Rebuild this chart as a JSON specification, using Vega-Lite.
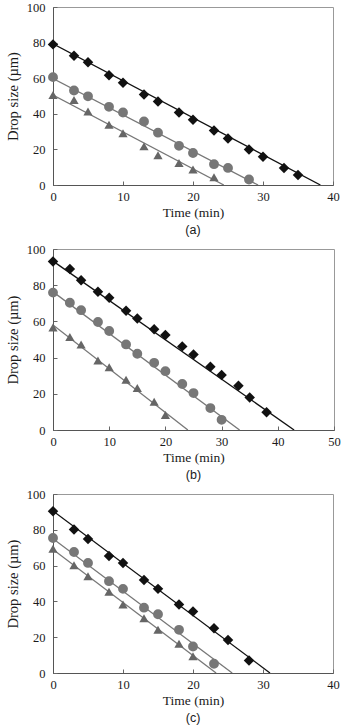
{
  "$schema": "https://vega.github.io/schema/vega-lite/v6.json",
  "background": "white",
  "padding": {"left": 4, "top": 0, "right": 6, "bottom": 0},
  "spacing": 64,
  "bounds": "flush",
  "config": {
    "font": "Liberation Serif",
    "view": {"stroke": "#999", "strokeWidth": 1},
    "axis": {
      "grid": false,
      "labelFont": "Liberation Serif",
      "titleFont": "Liberation Serif",
      "labelFontSize": 12.5,
      "titleFontSize": 13.5,
      "titleFontWeight": "normal",
      "labelColor": "#1a1a1a",
      "titleColor": "#1a1a1a",
      "domainColor": "#555",
      "tickColor": "#666",
      "tickSize": -4,
      "labelOverlap": false,
      "labelFlush": false
    },
    "axisY": {"titleFontSize": 14.5, "titlePadding": 6, "labelPadding": 12},
    "axisX": {"titlePadding": 3, "labelPadding": 9},
    "title": {"font": "Liberation Sans", "fontSize": 12.5, "fontWeight": "normal", "color": "#1a1a1a", "orient": "bottom", "offset": 5}
  },
  "datasets": {
    "pa": [
      {"s": "D", "t": 0, "d": 79}, {"s": "D", "t": 3, "d": 72.6}, {"s": "D", "t": 5, "d": 68.9}, {"s": "D", "t": 8, "d": 61.7}, {"s": "D", "t": 10, "d": 57.4}, {"s": "D", "t": 13, "d": 50.9}, {"s": "D", "t": 15, "d": 46.9}, {"s": "D", "t": 18, "d": 40.7}, {"s": "D", "t": 20, "d": 36.7}, {"s": "D", "t": 23, "d": 30.6}, {"s": "D", "t": 25, "d": 26.1}, {"s": "D", "t": 28, "d": 20}, {"s": "D", "t": 30, "d": 15.9}, {"s": "D", "t": 33, "d": 9.6}, {"s": "D", "t": 35, "d": 5.6},
      {"s": "C", "t": 0, "d": 60.6}, {"s": "C", "t": 3, "d": 53.1}, {"s": "C", "t": 5, "d": 49.8}, {"s": "C", "t": 8, "d": 43.9}, {"s": "C", "t": 10, "d": 40.7}, {"s": "C", "t": 13, "d": 35.7}, {"s": "C", "t": 15, "d": 29.4}, {"s": "C", "t": 18, "d": 22}, {"s": "C", "t": 20, "d": 18}, {"s": "C", "t": 23, "d": 11.7}, {"s": "C", "t": 25, "d": 9.6}, {"s": "C", "t": 28, "d": 3.1},
      {"s": "T", "t": 0, "d": 50.6}, {"s": "T", "t": 3, "d": 47.8}, {"s": "T", "t": 5, "d": 41.3}, {"s": "T", "t": 8, "d": 33.9}, {"s": "T", "t": 10, "d": 29.1}, {"s": "T", "t": 13, "d": 21.7}, {"s": "T", "t": 15, "d": 16.7}, {"s": "T", "t": 18, "d": 12.4}, {"s": "T", "t": 20, "d": 8.7}, {"s": "T", "t": 23, "d": 4.3}
    ],
    "la": [
      {"s": "D", "t": 0, "d": 79.3}, {"s": "D", "t": 38.2, "d": 0},
      {"s": "C", "t": 0, "d": 59.8}, {"s": "C", "t": 29.3, "d": 0},
      {"s": "T", "t": 0, "d": 50.5}, {"s": "T", "t": 24.4, "d": 0}
    ],
    "pb": [
      {"s": "D", "t": 0, "d": 93.1}, {"s": "D", "t": 3, "d": 88.9}, {"s": "D", "t": 5, "d": 82.7}, {"s": "D", "t": 8, "d": 76.4}, {"s": "D", "t": 10, "d": 73.1}, {"s": "D", "t": 13, "d": 65.9}, {"s": "D", "t": 15, "d": 61.6}, {"s": "D", "t": 18, "d": 55.7}, {"s": "D", "t": 20, "d": 52.5}, {"s": "D", "t": 23, "d": 46.2}, {"s": "D", "t": 25, "d": 41.7}, {"s": "D", "t": 28, "d": 34.9}, {"s": "D", "t": 30, "d": 30.4}, {"s": "D", "t": 33, "d": 24.5}, {"s": "D", "t": 35, "d": 18}, {"s": "D", "t": 38, "d": 9.8},
      {"s": "C", "t": 0, "d": 75.9}, {"s": "C", "t": 3, "d": 70.3}, {"s": "C", "t": 5, "d": 66.2}, {"s": "C", "t": 8, "d": 59.7}, {"s": "C", "t": 10, "d": 54.7}, {"s": "C", "t": 13, "d": 47.3}, {"s": "C", "t": 15, "d": 42.1}, {"s": "C", "t": 18, "d": 37.1}, {"s": "C", "t": 20, "d": 32.5}, {"s": "C", "t": 23, "d": 25.4}, {"s": "C", "t": 25, "d": 20.4}, {"s": "C", "t": 28, "d": 12.1}, {"s": "C", "t": 30, "d": 5.6},
      {"s": "T", "t": 0, "d": 56.6}, {"s": "T", "t": 3, "d": 51.4}, {"s": "T", "t": 5, "d": 47.3}, {"s": "T", "t": 8, "d": 38.4}, {"s": "T", "t": 10, "d": 34.7}, {"s": "T", "t": 13, "d": 27.8}, {"s": "T", "t": 15, "d": 23.2}, {"s": "T", "t": 18, "d": 15.6}, {"s": "T", "t": 20, "d": 8.3}
    ],
    "lb": [
      {"s": "D", "t": 0, "d": 93.3}, {"s": "D", "t": 42.9, "d": 0},
      {"s": "C", "t": 0, "d": 76.3}, {"s": "C", "t": 33.2, "d": 0},
      {"s": "T", "t": 0, "d": 58}, {"s": "T", "t": 24, "d": 0}
    ],
    "pc": [
      {"s": "D", "t": 0, "d": 90.4}, {"s": "D", "t": 3, "d": 80.2}, {"s": "D", "t": 5, "d": 74.8}, {"s": "D", "t": 8, "d": 65.4}, {"s": "D", "t": 10, "d": 61.5}, {"s": "D", "t": 13, "d": 51.9}, {"s": "D", "t": 15, "d": 47}, {"s": "D", "t": 18, "d": 38.3}, {"s": "D", "t": 20, "d": 34.3}, {"s": "D", "t": 23, "d": 25}, {"s": "D", "t": 25, "d": 18.5}, {"s": "D", "t": 28, "d": 7},
      {"s": "C", "t": 0, "d": 75.4}, {"s": "C", "t": 3, "d": 67.6}, {"s": "C", "t": 5, "d": 61.5}, {"s": "C", "t": 8, "d": 51.3}, {"s": "C", "t": 10, "d": 47}, {"s": "C", "t": 13, "d": 36.5}, {"s": "C", "t": 15, "d": 32.8}, {"s": "C", "t": 18, "d": 24.1}, {"s": "C", "t": 20, "d": 14.8}, {"s": "C", "t": 23, "d": 5.2},
      {"s": "T", "t": 0, "d": 69.4}, {"s": "T", "t": 3, "d": 60.2}, {"s": "T", "t": 5, "d": 54.1}, {"s": "T", "t": 8, "d": 45.4}, {"s": "T", "t": 10, "d": 38.3}, {"s": "T", "t": 13, "d": 30.6}, {"s": "T", "t": 15, "d": 24.1}, {"s": "T", "t": 18, "d": 16.3}, {"s": "T", "t": 20, "d": 9.3}
    ],
    "lc": [
      {"s": "D", "t": 0, "d": 90.5}, {"s": "D", "t": 31, "d": 0},
      {"s": "C", "t": 0, "d": 75}, {"s": "C", "t": 25.6, "d": 0},
      {"s": "T", "t": 0, "d": 69}, {"s": "T", "t": 23.3, "d": 0}
    ]
  },
  "vconcat": [
    {
      "width": 280, "height": 178,
      "title": {"text": "(a)"},
      "encoding": {
        "x": {"field": "t", "type": "quantitative", "scale": {"domain": [0, 40]}, "axis": {"title": "Time (min)", "values": [0, 10, 20, 30, 40]}},
        "y": {"field": "d", "type": "quantitative", "scale": {"domain": [0, 100]}, "axis": {"title": "Drop size (µm)", "values": [0, 20, 40, 60, 80, 100]}}
      },
      "layer": [
        {
          "data": {"name": "la"},
          "mark": {"type": "line", "strokeWidth": 1.3, "clip": true},
          "encoding": {
            "detail": {"field": "s"},
            "color": {"field": "s", "type": "nominal", "scale": {"domain": ["D", "C", "T"], "range": ["#111111", "#777777", "#777777"]}, "legend": null}
          }
        },
        {
          "data": {"name": "pa"},
          "mark": {"type": "point", "filled": true, "opacity": 1},
          "encoding": {
            "shape": {"field": "s", "type": "nominal", "scale": {"domain": ["D", "C", "T"], "range": ["diamond", "circle", "triangle-up"]}, "legend": null},
            "color": {"field": "s", "type": "nominal", "scale": {"domain": ["D", "C", "T"], "range": ["#111111", "#777777", "#666666"]}, "legend": null},
            "size": {"field": "s", "type": "nominal", "scale": {"domain": ["D", "C", "T"], "range": [110, 85, 75]}, "legend": null}
          }
        }
      ],
      "resolve": {"scale": {"color": "independent"}}
    },
    {
      "width": 281, "height": 181,
      "title": {"text": "(b)"},
      "encoding": {
        "x": {"field": "t", "type": "quantitative", "scale": {"domain": [0, 50]}, "axis": {"title": "Time (min)", "values": [0, 10, 20, 30, 40, 50]}},
        "y": {"field": "d", "type": "quantitative", "scale": {"domain": [0, 100]}, "axis": {"title": "Drop size (µm)", "values": [0, 20, 40, 60, 80, 100]}}
      },
      "layer": [
        {
          "data": {"name": "lb"},
          "mark": {"type": "line", "strokeWidth": 1.3, "clip": true},
          "encoding": {
            "detail": {"field": "s"},
            "color": {"field": "s", "type": "nominal", "scale": {"domain": ["D", "C", "T"], "range": ["#111111", "#777777", "#777777"]}, "legend": null}
          }
        },
        {
          "data": {"name": "pb"},
          "mark": {"type": "point", "filled": true, "opacity": 1},
          "encoding": {
            "shape": {"field": "s", "type": "nominal", "scale": {"domain": ["D", "C", "T"], "range": ["diamond", "circle", "triangle-up"]}, "legend": null},
            "color": {"field": "s", "type": "nominal", "scale": {"domain": ["D", "C", "T"], "range": ["#111111", "#777777", "#666666"]}, "legend": null},
            "size": {"field": "s", "type": "nominal", "scale": {"domain": ["D", "C", "T"], "range": [110, 85, 75]}, "legend": null}
          }
        }
      ],
      "resolve": {"scale": {"color": "independent"}}
    },
    {
      "width": 280, "height": 179,
      "title": {"text": "(c)"},
      "encoding": {
        "x": {"field": "t", "type": "quantitative", "scale": {"domain": [0, 40]}, "axis": {"title": "Time (min)", "values": [0, 10, 20, 30, 40]}},
        "y": {"field": "d", "type": "quantitative", "scale": {"domain": [0, 100]}, "axis": {"title": "Drop size (µm)", "values": [0, 20, 40, 60, 80, 100]}}
      },
      "layer": [
        {
          "data": {"name": "lc"},
          "mark": {"type": "line", "strokeWidth": 1.3, "clip": true},
          "encoding": {
            "detail": {"field": "s"},
            "color": {"field": "s", "type": "nominal", "scale": {"domain": ["D", "C", "T"], "range": ["#111111", "#777777", "#777777"]}, "legend": null}
          }
        },
        {
          "data": {"name": "pc"},
          "mark": {"type": "point", "filled": true, "opacity": 1},
          "encoding": {
            "shape": {"field": "s", "type": "nominal", "scale": {"domain": ["D", "C", "T"], "range": ["diamond", "circle", "triangle-up"]}, "legend": null},
            "color": {"field": "s", "type": "nominal", "scale": {"domain": ["D", "C", "T"], "range": ["#111111", "#777777", "#666666"]}, "legend": null},
            "size": {"field": "s", "type": "nominal", "scale": {"domain": ["D", "C", "T"], "range": [110, 85, 75]}, "legend": null}
          }
        }
      ],
      "resolve": {"scale": {"color": "independent"}}
    }
  ]
}
